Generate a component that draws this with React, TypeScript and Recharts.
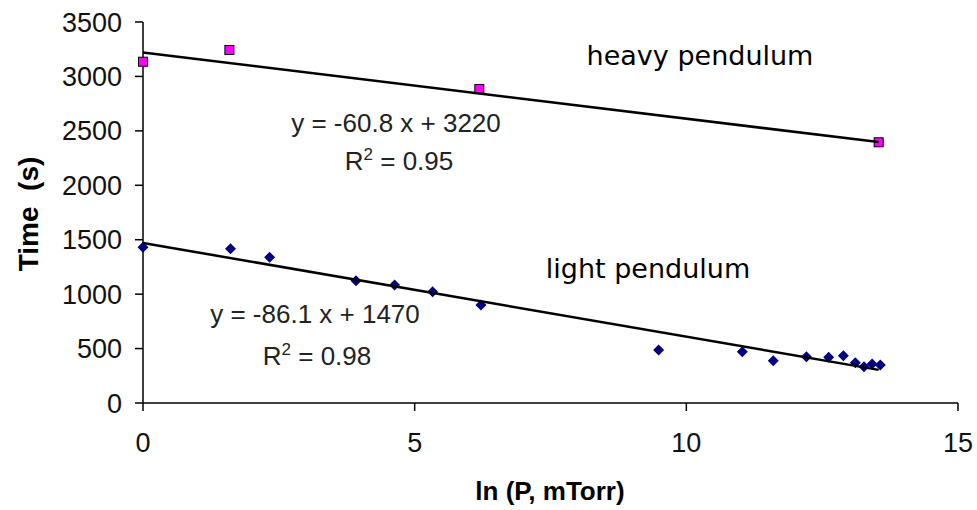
import React from 'react';
import { ScatterChart, Scatter, XAxis, YAxis } from 'recharts';

// ln(P) values and times
const heavyX = [0, 1.59, 6.19, 13.54];
const heavyTime = [3135, 3243, 2884, 2395];

const lightX = [0, 1.61, 2.33, 3.92, 4.63, 5.33, 6.22, 9.49, 11.03, 11.6, 12.21, 12.62, 12.89, 13.11, 13.27, 13.42, 13.57];
const lightTime = [1430, 1417, 1338, 1124, 1084, 1023, 900, 487, 471, 389, 425, 420, 435, 370, 334, 358, 349];

// linear fits as printed on the chart
const heavyFit = { slope: -60.8, intercept: 3220, r2: '0.95' };
const lightFit = { slope: -86.1, intercept: 1470, r2: '0.98' };
const fitRange = [0, 13.54];

const xTicks = [0, 5, 10, 15];
const yTicks = [0, 500, 1000, 1500, 2000, 2500, 3000, 3500];

const heavyData = heavyX.map((x, i) => ({ x, y: heavyTime[i] }));
const lightData = lightX.map((x, i) => ({ x, y: lightTime[i] }));
const fitLine = (f: { slope: number; intercept: number }) =>
  fitRange.map((x) => ({ x, y: f.intercept + f.slope * x }));

const W = 977;
const H = 510;

const Square = (props: any) => {
  const { cx, cy } = props;
  return <rect x={cx - 4.5} y={cy - 4.5} width={9} height={9} fill="#ff00ff" stroke="#000" strokeWidth={1} />;
};

const Diamond = (props: any) => {
  const { cx, cy } = props;
  const r = 5.5;
  return <path d={`M${cx},${cy - r}L${cx + r},${cy}L${cx},${cy + r}L${cx - r},${cy}Z`} fill="#000080" />;
};

const NoDot = () => <g />;

const tickStyle = { fontFamily: 'Liberation Sans, Arial, sans-serif', fontSize: 27, fill: '#111' };
const eqFont = 'Liberation Sans, Arial, sans-serif';

const fmt = (f: { slope: number; intercept: number }) => `y = ${f.slope} x + ${f.intercept}`;

export default function App() {
  return (
    <div style={{ position: 'absolute', left: 0, top: 0, width: W, height: H, background: '#fff' }}>
      <ScatterChart width={W} height={H} margin={{ top: 22, right: 19, left: 0, bottom: 0 }}>
        <XAxis
          type="number"
          dataKey="x"
          domain={[0, 15]}
          ticks={xTicks}
          height={107}
          tickSize={8}
          tickMargin={22}
          tick={tickStyle}
          axisLine={{ stroke: '#000', strokeWidth: 1.5 }}
          tickLine={{ stroke: '#000', strokeWidth: 1.5 }}
        />
        <YAxis
          type="number"
          dataKey="y"
          domain={[0, 3500]}
          ticks={yTicks}
          width={143}
          tickSize={8}
          tickMargin={13}
          tick={tickStyle}
          axisLine={{ stroke: '#000', strokeWidth: 1.5 }}
          tickLine={{ stroke: '#000', strokeWidth: 1.5 }}
        />
        <Scatter data={heavyData} shape={Square} isAnimationActive={false} />
        <Scatter data={lightData} shape={Diamond} isAnimationActive={false} />
        <Scatter
          data={fitLine(heavyFit)}
          shape={NoDot}
          line={{ stroke: '#000', strokeWidth: 2.5 }}
          isAnimationActive={false}
        />
        <Scatter
          data={fitLine(lightFit)}
          shape={NoDot}
          line={{ stroke: '#000', strokeWidth: 2.5 }}
          isAnimationActive={false}
        />
      </ScatterChart>
      <svg width={W} height={H} style={{ position: 'absolute', left: 0, top: 0, pointerEvents: 'none' }}>
        <text
          x={28}
          y={214}
          transform="rotate(-90 28 214)"
          textAnchor="middle"
          dominantBaseline="central"
          fontFamily={eqFont}
          fontWeight="bold"
          fontSize={28}
        >
          {'Time\u00a0\u00a0(s)'}
        </text>
        <text x={550} y={500} textAnchor="middle" fontFamily={eqFont} fontWeight="bold" fontSize={26}>
          ln (P, mTorr)
        </text>
        <text x={700} y={65} textAnchor="middle" fontFamily="DejaVu Sans, sans-serif" fontSize={27}>
          heavy pendulum
        </text>
        <text x={648} y={278} textAnchor="middle" fontFamily="DejaVu Sans, sans-serif" fontSize={27}>
          light pendulum
        </text>
        <text x={396} y={132} textAnchor="middle" fontFamily={eqFont} fontSize={26} fill="#222">
          {fmt(heavyFit)}
        </text>
        <text x={399} y={170} textAnchor="middle" fontFamily={eqFont} fontSize={26} fill="#222">
          R<tspan dy={-10} fontSize={17}>2</tspan>
          <tspan dy={10}>{` = ${heavyFit.r2}`}</tspan>
        </text>
        <text x={315} y={323} textAnchor="middle" fontFamily={eqFont} fontSize={26} fill="#222">
          {fmt(lightFit)}
        </text>
        <text x={317} y={365} textAnchor="middle" fontFamily={eqFont} fontSize={26} fill="#222">
          R<tspan dy={-10} fontSize={17}>2</tspan>
          <tspan dy={10}>{` = ${lightFit.r2}`}</tspan>
        </text>
      </svg>
    </div>
  );
}
